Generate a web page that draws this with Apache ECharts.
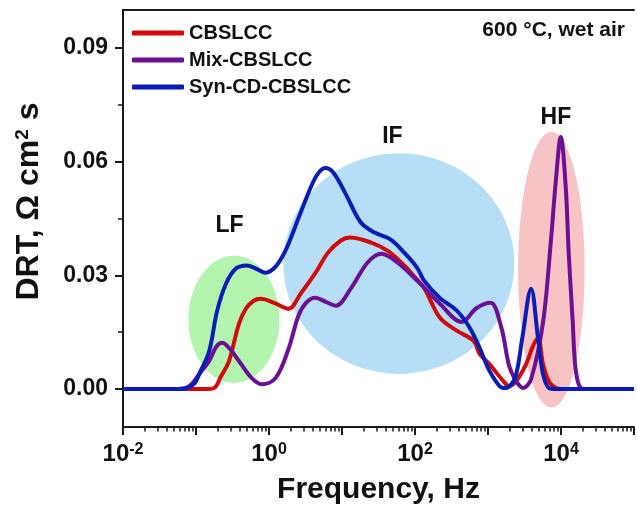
<!DOCTYPE html>
<html><head><meta charset="utf-8">
<script src="https://cdn.jsdelivr.net/npm/echarts@6/dist/echarts.min.js"></script>
<style>html,body{margin:0;padding:0;background:#fff}#c{width:637px;height:512px}</style>
</head><body><div id="c"></div>
<script>
// ---------- data (x values are log10 of frequency in Hz) ----------
const seriesNames = ['CBSLCC', 'Mix-CBSLCC', 'Syn-CD-CBSLCC'];

const redLogF = [-2, -0.887, -0.752, -0.657, -0.548, -0.412, -0.317, -0.209, -0.114, 0.062, 0.266, 0.442, 0.632, 0.809, 0.985, 1.107, 1.392, 1.623, 1.853, 2.003, 2.125, 2.342, 2.573, 2.803, 2.885, 3.02, 3.21, 3.29, 3.387, 3.522, 3.617, 3.685, 3.753, 3.82, 3.889, 4.0, 5];
const redDRT  = [0, 0, 0.0003, 0.0034, 0.0074, 0.0172, 0.0212, 0.0233, 0.0238, 0.0228, 0.0212, 0.0254, 0.0305, 0.036, 0.0392, 0.040, 0.0387, 0.0365, 0.0326, 0.0294, 0.0267, 0.0188, 0.0154, 0.0127, 0.0093, 0.0066, 0.0021, 0.0008, 0.0021, 0.0066, 0.0114, 0.0135, 0.0066, 0.0026, 0.0008, 0, 0];

const purpleLogF = [-2, -1.227, -1.09, -0.955, -0.82, -0.725, -0.643, -0.535, -0.412, -0.236, -0.1, 0.09, 0.266, 0.402, 0.51, 0.632, 0.78, 0.917, 1.12, 1.351, 1.541, 1.758, 2.057, 2.342, 2.64, 2.844, 3.034, 3.183, 3.29, 3.387, 3.48, 3.59, 3.753, 3.862, 3.93, 3.997, 4.065, 4.106, 4.16, 4.2, 4.27, 4.36, 5];
const purpleDRT  = [0, 0, 0.0008, 0.004, 0.0074, 0.0111, 0.0122, 0.0106, 0.0074, 0.0029, 0.0013, 0.0029, 0.0105, 0.0193, 0.0228, 0.0241, 0.023, 0.022, 0.0265, 0.0334, 0.0357, 0.0334, 0.0281, 0.0225, 0.0177, 0.0214, 0.0228, 0.0162, 0.0061, 0.0021, 0.0003, 0.0026, 0.0175, 0.0392, 0.0551, 0.0665, 0.0532, 0.0357, 0.018, 0.0053, 0.0003, 0, 0];

const blueLogF = [-2, -1.3, -1.13, -1.02, -0.955, -0.82, -0.71, -0.589, -0.453, -0.304, -0.18, -0.046, 0.09, 0.225, 0.402, 0.578, 0.673, 0.768, 0.877, 1.039, 1.256, 1.446, 1.663, 1.853, 2.03, 2.125, 2.342, 2.573, 2.749, 2.885, 3.02, 3.156, 3.21, 3.30, 3.387, 3.47, 3.59, 3.685, 3.753, 3.835, 3.95, 5];
const blueDRT  = [0, 0, 0.0003, 0.0015, 0.004, 0.010, 0.0207, 0.0278, 0.0318, 0.0326, 0.0318, 0.0307, 0.0323, 0.0365, 0.045, 0.0535, 0.0569, 0.0583, 0.0572, 0.0519, 0.044, 0.0413, 0.0395, 0.036, 0.032, 0.0286, 0.024, 0.0207, 0.0162, 0.0109, 0.0048, 0.0008, 0.0003, 0.0008, 0.004, 0.0135, 0.0265, 0.0135, 0.004, 0.0003, 0, 0];

const yLabelValues = [0, 0.03, 0.06, 0.09];
const yMinorTickValues = [0.015, 0.045, 0.075];
const xLabelExponents = [-2, 0, 2, 4];

// frequency regions (LF / IF / HF) in data units
const regionNames = ['LF', 'IF', 'HF'];
const regionCenterLogF = [-0.48, 1.779, 3.868];
const regionCenterDRT = [0.0184, 0.0331, 0.0315];
const regionHalfWidthDec = [0.624, 1.581, 0.455];
const regionHalfHeightDRT = [0.0168, 0.0291, 0.0363];
const regionLabelLogF = [-0.54, 1.69, 3.93];
const regionLabelDRT = [0.0432, 0.0667, 0.0715];

// ---------- chart ----------
const FONT = 'Liberation Sans, Arial, sans-serif';
const lineColors = ['#d30a0a', '#6b0f93', '#0a1cb6'];
const regionFill = ['#b3f4ae', '#b6def6', '#f8c3c4'];
const xMinorTicks = [];
for (let d = -2; d < 5; d++) for (let k = 2; k <= 9; k++) xMinorTicks.push(d + Math.log10(k));

const pairs = (xs, ys) => xs.map((x, i) => [x, ys[i]]);
const chart = echarts.init(document.getElementById('c'), null, {renderer: 'canvas'});

const axisLineStyle = {color: '#1a1a1a', width: 2};
const option = {
  animation: false,
  backgroundColor: '#fff',
  textStyle: {fontFamily: FONT},
  grid: {left: 123, top: 10, width: 518, height: 417, show: false, containLabel: false},
  legend: {
    data: seriesNames, orient: 'vertical', left: 127, top: 18,
    itemWidth: 52, itemHeight: 5, itemGap: 7, icon: 'roundRect',
    textStyle: {fontFamily: FONT, fontSize: 20, fontWeight: 'bold', color: '#111', lineHeight: 20}
  },
  graphic: [{
    type: 'text', right: 12, top: 20,
    style: {text: '600 °C, wet air', font: 'bold 21px ' + FONT, fill: '#111'}
  }],
  xAxis: [{
    type: 'value', min: -2, max: 5, interval: 1, position: 'bottom',
    name: 'Frequency, Hz', nameLocation: 'middle', nameGap: 48,
    nameTextStyle: {fontSize: 30, fontWeight: 'bold', color: '#111', fontFamily: FONT},
    axisLine: {show: true, onZero: false, lineStyle: axisLineStyle},
    axisTick: {show: true, inside: false, length: 8, lineStyle: {color: '#1a1a1a', width: 2}},
    splitLine: {show: false},
    axisLabel: {
      show: true, margin: 15, color: '#111',
      formatter: v => xLabelExponents.indexOf(v) >= 0 ? '{b|10}{s|' + v + '}' : '',
      rich: {
        b: {fontSize: 24, fontWeight: 'bold', fontFamily: FONT, color: '#111', verticalAlign: 'top', lineHeight: 32},
        s: {fontSize: 16, fontWeight: 'bold', fontFamily: FONT, color: '#111', verticalAlign: 'top', lineHeight: 16}
      }
    }
  }, {
    type: 'value', min: -2, max: 5, position: 'bottom',
    axisLine: {show: false, onZero: false}, axisLabel: {show: false}, splitLine: {show: false},
    axisTick: {show: true, inside: false, length: 4.5, customValues: xMinorTicks, lineStyle: {color: '#1a1a1a', width: 1.5}}
  }, {
    type: 'value', min: -2, max: 5, position: 'top',
    axisLine: {show: true, onZero: false, lineStyle: axisLineStyle}, axisLabel: {show: false}, splitLine: {show: false},
    axisTick: {show: false}
  }],
  yAxis: [{
    type: 'value', min: -0.01, max: 0.1, position: 'left',
    name: 'DRT, Ω cm{s|2} s', nameLocation: 'middle', nameGap: 78, nameRotate: 90,
    nameTextStyle: {fontSize: 32, fontWeight: 'bold', color: '#111', fontFamily: FONT, padding: [0, 0, 0, 34],
      rich: {s: {fontSize: 19, fontWeight: 'bold', fontFamily: FONT, color: '#111', verticalAlign: 'top', lineHeight: 19}}},
    axisLine: {show: true, onZero: false, lineStyle: axisLineStyle},
    axisTick: {show: true, inside: false, length: 8, customValues: yLabelValues, lineStyle: {color: '#1a1a1a', width: 2}},
    splitLine: {show: false},
    axisLabel: {show: true, margin: 15, customValues: yLabelValues, formatter: v => v.toFixed(2),
      fontSize: 23, fontWeight: 'bold', color: '#111', fontFamily: FONT}
  }, {
    type: 'value', min: -0.01, max: 0.1, position: 'left',
    axisLine: {show: false, onZero: false}, axisLabel: {show: false}, splitLine: {show: false},
    axisTick: {show: true, inside: false, length: 5, customValues: yMinorTickValues, lineStyle: {color: '#1a1a1a', width: 1.5}}
  }],
  series: [
    {
      type: 'custom', name: 'regions', silent: true, z: 1, clip: false,
      data: regionNames.map((n, i) => [regionCenterLogF[i], regionCenterDRT[i], regionHalfWidthDec[i], regionHalfHeightDRT[i]]),
      encode: {x: 0, y: 1},
      renderItem: (params, api) => {
        const cx = api.value(0), cy = api.value(1), rw = api.value(2), rh = api.value(3);
        const c = api.coord([cx, cy]);
        const e = api.coord([cx + rw, cy + rh]);
        return {type: 'ellipse', shape: {cx: c[0], cy: c[1], rx: Math.abs(e[0] - c[0]), ry: Math.abs(c[1] - e[1])},
          style: {fill: regionFill[params.dataIndex]}};
      }
    },
    {
      type: 'custom', name: 'regionLabels', silent: true, z: 2, clip: false,
      data: regionNames.map((n, i) => [regionLabelLogF[i], regionLabelDRT[i]]),
      encode: {x: 0, y: 1},
      renderItem: (params, api) => {
        const p = api.coord([api.value(0), api.value(1)]);
        return {type: 'text', x: p[0], y: p[1],
          style: {text: regionNames[params.dataIndex], fontSize: 23, fontWeight: 'bold', fontFamily: FONT, fill: '#111', align: 'center', verticalAlign: 'middle'}};
      }
    },
    {type: 'line', name: seriesNames[0], data: pairs(redLogF, redDRT), showSymbol: false, smooth: 0.35, z: 3,
      lineStyle: {color: lineColors[0], width: 4}, itemStyle: {color: lineColors[0]}},
    {type: 'line', name: seriesNames[1], data: pairs(purpleLogF, purpleDRT), showSymbol: false, smooth: 0.35, z: 4,
      lineStyle: {color: lineColors[1], width: 4}, itemStyle: {color: lineColors[1]}},
    {type: 'line', name: seriesNames[2], data: pairs(blueLogF, blueDRT), showSymbol: false, smooth: 0.35, z: 5,
      lineStyle: {color: lineColors[2], width: 4}, itemStyle: {color: lineColors[2]}}
  ]
};
chart.setOption(option);
</script>
</body></html>
